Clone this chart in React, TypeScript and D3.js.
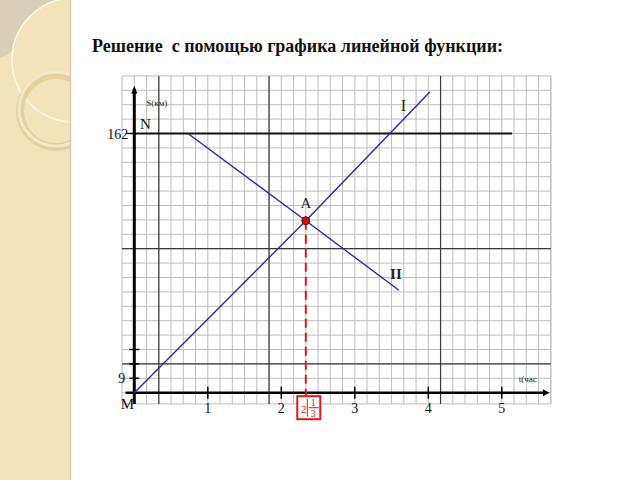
import * as d3 from "d3";
import React from "react";

// time in hours, distance in km
const hourTicks = [1, 2, 3, 4, 5];
const smallSTicks = [9, 18, 27];
const distanceMN = 162;
const nLineEndT = 5.14;

const lineIT = [0, 7 / 3, 4.02];
const lineIS = [0, 107.5, 188];
const lineIIT = [0.73, 7 / 3, 3.6];
const lineIIS = [162, 107.5, 64];
const meetT = 7 / 3;
const meetS = 107.5;

// graph paper: 6 cells per hour, 9 km per cell
const cellsT = d3.range(-1, 35).map(j => j / 6);
const cellsS = d3.range(0, 23).map(k => k * 9);
const darkT = [2 / 6, 11 / 6, 25 / 6];
const darkS = [18, 90];

const W = 640;
const H = 480;
const SERIF = "'Liberation Serif', 'Times New Roman', serif";
const BLUE = "#2b2b9c";
const RED = "#e01818";

export default function App() {
  const x = d3.scaleLinear().domain([-1 / 6, 34 / 6]).range([122.05, 550.8]);
  const y = d3.scaleLinear().domain([-7, 198]).range([403.9, 75.9]);
  const line = d3.line<[number, number]>().x(d => x(d[0])).y(d => y(d[1]));
  const ptsI = lineIT.map((t, i) => [t, lineIS[i]] as [number, number]);
  const ptsII = lineIIT.map((t, i) => [t, lineIIS[i]] as [number, number]);

  const x0 = x(0);
  const y0 = y(0);
  const [gx0, gx1] = x.range();
  const [gy0, gy1] = y.range();

  return (
    <div style={{ position: "fixed", left: 0, top: 0, width: W, height: H }}>
      <svg width={W} height={H} style={{ display: "block", background: "#fff" }}>
        <defs>
          <clipPath id="panel">
            <rect x={0} y={0} width={70} height={H} />
          </clipPath>
        </defs>

        {/* decorative side panel */}
        <rect x={0} y={0} width={70} height={H} fill="#f3e3bb" />
        <g clipPath="url(#panel)">
          <path d="M0,0 L57,0 A62,62 0 0,0 14,48 Q8,56 0,58 Z" fill="#d9cfb6" />
          <circle cx={74} cy={60} r={62} fill="none" stroke="#fbf6ea" strokeWidth={1.6} />
          <circle cx={56} cy={111} r={36} fill="none" stroke="#e3cd9c" strokeWidth={8} opacity={0.9} />
          <circle cx={56} cy={109} r={37} fill="none" stroke="#f8f0de" strokeWidth={3} opacity={0.7} />
        </g>
        <line x1={70.5} x2={70.5} y1={0} y2={H} stroke="#dccaa0" strokeWidth={1.5} />

        <text x={92} y={52} fontFamily={SERIF} fontWeight="bold" fontSize={18} fill="#111">
          {"Решение\u00a0 с помощью графика линейной функции:"}
        </text>

        {/* graph paper */}
        <g>
          {cellsT.map(t => (
            <line key={"v" + t} x1={x(t)} x2={x(t)} y1={gy0} y2={gy1} stroke="#bdbdbd" strokeWidth={1} />
          ))}
          <line x1={gx1} x2={gx1} y1={gy0} y2={gy1} stroke="#bdbdbd" strokeWidth={1} />
          {cellsS.map(s => (
            <line key={"h" + s} x1={gx0} x2={gx1} y1={y(s)} y2={y(s)} stroke="#bdbdbd" strokeWidth={1} />
          ))}
          <line x1={gx0} x2={gx1} y1={gy0} y2={gy0} stroke="#bdbdbd" strokeWidth={1} />
          {darkT.map(t => (
            <line key={"dv" + t} x1={x(t)} x2={x(t)} y1={gy0} y2={gy1} stroke="#3a3a3a" strokeWidth={1.2} />
          ))}
          {darkS.map(s => (
            <line key={"dh" + s} x1={gx0} x2={gx1} y1={y(s)} y2={y(s)} stroke="#3a3a3a" strokeWidth={1.2} />
          ))}
        </g>

        {/* N line at 162 km */}
        <line x1={x0} x2={x(nLineEndT)} y1={y(distanceMN)} y2={y(distanceMN)} stroke="#111" strokeWidth={2} />

        {/* axes */}
        <line x1={x0} x2={x0} y1={gy0} y2={y(188)} stroke="#000" strokeWidth={3} />
        <path d={`M${x0 - 3},${y(187)} L${x0},${y(192)} L${x0 + 3},${y(187)} Z`} fill="#000" />
        <line x1={x(-0.12)} x2={x(5.6)} y1={y0} y2={y0} stroke="#000" strokeWidth={2.5} />
        <path d={`M${x(5.56)},${y0 - 3.5} L${x(5.65)},${y0} L${x(5.56)},${y0 + 3.5} Z`} fill="#000" />

        {hourTicks.map(t => (
          <g key={"ht" + t}>
            <line x1={x(t)} x2={x(t)} y1={y0 - 6} y2={y0 + 6} stroke="#000" strokeWidth={1.5} />
            <text x={x(t)} y={y0 + 20} textAnchor="middle" fontFamily={SERIF} fontSize={14} fill="#111">
              {t}
            </text>
          </g>
        ))}
        {smallSTicks.map(s => (
          <line key={"st" + s} x1={x0 - 5} x2={x0 + 5} y1={y(s)} y2={y(s)} stroke="#000" strokeWidth={1.5} />
        ))}
        <line x1={x0 - 7} x2={x0} y1={y(distanceMN)} y2={y(distanceMN)} stroke="#000" strokeWidth={1.5} />

        <text x={x0 - 6} y={y(distanceMN) + 5} textAnchor="end" fontFamily={SERIF} fontSize={14} fill="#111">162</text>
        <text x={x0 - 9} y={y(9) + 5} textAnchor="end" fontFamily={SERIF} fontSize={14} fill="#111">9</text>
        <text x={x0 - 7} y={y0 + 16} textAnchor="middle" fontFamily={SERIF} fontSize={15} fill="#111">M</text>
        <text x={x0 + 11} y={y(distanceMN) - 5} textAnchor="middle" fontFamily={SERIF} fontSize={15} fill="#111">N</text>
        <text x={x0 + 12} y={y(180) + 1} fontFamily={SERIF} fontSize={9} fill="#222">S(км)</text>
        <text x={x(5.23)} y={y0 - 11} fontFamily={SERIF} fontSize={9} fill="#222">t(час</text>

        {/* motion lines */}
        <path d={line(ptsI) ?? ""} fill="none" stroke={BLUE} strokeWidth={1.4} />
        <path d={line(ptsII) ?? ""} fill="none" stroke={BLUE} strokeWidth={1.4} />
        <text x={x(3.66)} y={y(176)} textAnchor="middle" fontFamily={SERIF} fontSize={16} fill="#222">I</text>
        <text x={x(3.56)} y={y(71)} textAnchor="middle" fontFamily={SERIF} fontSize={15} fontWeight="bold" fill="#222">II</text>
        <text x={x(meetT)} y={y(meetS) - 13} textAnchor="middle" fontFamily={SERIF} fontSize={15} fill="#222">A</text>

        {/* meeting time */}
        <line x1={x(meetT)} x2={x(meetT)} y1={y(meetS)} y2={y0 + 3} stroke={RED} strokeWidth={2} strokeDasharray="9,5" />
        <circle cx={x(meetT)} cy={y(meetS)} r={4} fill="#c81010" stroke="#5a0a0a" strokeWidth={1} />
        <g>
          <rect x={x(meetT) - 8.5} y={y0 + 3.5} width={23} height={23} fill="#fff" stroke={RED} strokeWidth={2} />
          <text x={x(meetT) - 2} y={y0 + 20} textAnchor="middle" fontFamily={SERIF} fontSize={11} fill={RED}>2</text>
          <line x1={x(meetT) + 1.5} x2={x(meetT) + 1.5} y1={y0 + 6} y2={y0 + 24} stroke={RED} strokeWidth={1} />
          <text x={x(meetT) + 7.5} y={y0 + 13} textAnchor="middle" fontFamily={SERIF} fontSize={10} fill={RED}>1</text>
          <line x1={x(meetT) + 3} x2={x(meetT) + 13} y1={y0 + 15} y2={y0 + 15} stroke={RED} strokeWidth={1} />
          <text x={x(meetT) + 7.5} y={y0 + 24.5} textAnchor="middle" fontFamily={SERIF} fontSize={10} fill={RED}>3</text>
        </g>
      </svg>
    </div>
  );
}
